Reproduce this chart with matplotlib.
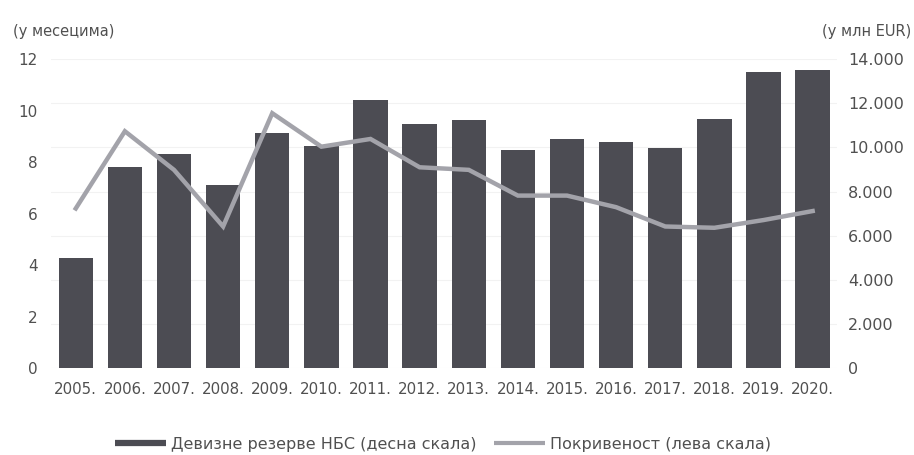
import matplotlib
matplotlib.use("Agg")
import matplotlib.pyplot as plt
import numpy as np
from matplotlib.lines import Line2D

years = ["2005", "2006", "2007", "2008", "2009", "2010", "2011", "2012",
         "2013", "2014", "2015", "2016", "2017", "2018", "2019", "2020"]
reserves = [5000, 9100, 9700, 8300, 10650, 10050, 12150, 11050,
            11250, 9900, 10400, 10250, 9980, 11300, 13400, 13500]
coverage = [6.2, 9.2, 7.7, 5.5, 9.9, 8.6, 8.9, 7.8,
            7.7, 6.7, 6.7, 6.25, 5.5, 5.45, 5.75, 6.1]
left_ticks = [0, 2, 4, 6, 8, 10, 12]
right_ticks = [0, 2000, 4000, 6000, 8000, 10000, 12000, 14000]
right_labels = ["0", "2.000", "4.000", "6.000", "8.000", "10.000", "12.000", "14.000"]

bar_label = "Девизне резерве НБС (десна скала)"
line_label = "Покривеност (лева скала)"

bar_color = "#4c4c53"
line_color = "#a3a3aa"
text_color = "#505050"

plt.rcParams['font.family'] = ['DejaVu Sans']

fig = plt.figure(figsize=(9.14, 4.55), dpi=100)
ax = fig.add_axes([0.056, 0.191, 0.86, 0.679])
ax2 = ax.twinx()

x = np.arange(len(years))
ax2.bar(x, reserves, width=0.7, color=bar_color, zorder=2)
ax.plot(x, coverage, color=line_color, linewidth=3.2, zorder=3, solid_joinstyle='miter')

ax.set_zorder(ax2.get_zorder() + 1)
ax.patch.set_visible(False)

ax.set_xlim(-0.5, len(years) - 0.5)
ax.set_ylim(0, 12)
ax2.set_ylim(0, 14000)

ax.set_yticks(left_ticks)
ax.set_yticklabels([str(t) for t in left_ticks])
ax2.set_yticks(right_ticks)
ax2.set_yticklabels(right_labels)
ax.set_xticks(x)
ax.set_xticklabels([y + "." for y in years])

for a in (ax, ax2):
    for s in a.spines.values():
        s.set_visible(False)
    a.tick_params(length=0, colors=text_color)

ax.tick_params(axis='y', pad=9.5, labelsize=11)
ax2.tick_params(axis='y', pad=8, labelsize=11.5)
ax.tick_params(axis='x', pad=10, labelsize=10.8)

ax2.yaxis.grid(True, color="#f2f2f2", linewidth=0.8, zorder=0)
ax2.set_axisbelow(True)

fig.text(0.014, 0.93, "(у месецима)", fontsize=10.5, color=text_color, ha='left', va='center')
fig.text(0.997, 0.93, "(у млн EUR)", fontsize=10.5, color=text_color, ha='right', va='center')

handles = [Line2D([], [], color=bar_color, linewidth=4.5, solid_capstyle='butt'),
           Line2D([], [], color=line_color, linewidth=3, solid_capstyle='butt')]
leg = fig.legend(handles, [bar_label, line_label], loc='center left',
                 bbox_to_anchor=(115 / 914, 0.024), ncol=2, frameon=False,
                 borderpad=0, borderaxespad=0,
                 fontsize=11.5, handlelength=3.2, handletextpad=0.3, columnspacing=1.1)
for t in leg.get_texts():
    t.set_color(text_color)

fig.savefig("out.png", dpi=100, facecolor='white')
